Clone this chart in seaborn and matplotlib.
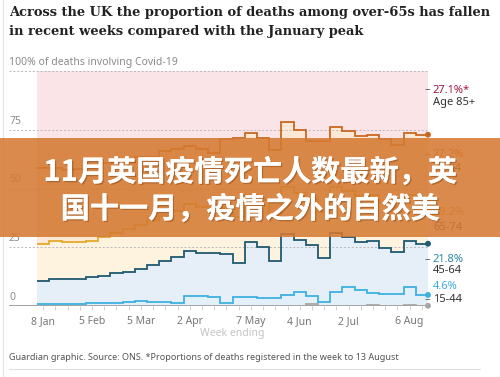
import matplotlib
matplotlib.use('Agg')
import matplotlib.pyplot as plt
import matplotlib.patheffects as pe
from matplotlib.patches import Rectangle
from matplotlib.lines import Line2D
import numpy as np
import seaborn as sns

# week ending dates, 2021
weeks = ['8 Jan', '15 Jan', '22 Jan', '29 Jan', '5 Feb', '12 Feb', '19 Feb', '26 Feb',
         '5 Mar', '12 Mar', '19 Mar', '26 Mar', '2 Apr', '9 Apr', '16 Apr', '23 Apr',
         '30 Apr', '7 May', '14 May', '21 May', '28 May', '4 Jun', '11 Jun', '18 Jun',
         '25 Jun', '2 Jul', '9 Jul', '16 Jul', '23 Jul', '30 Jul', '6 Aug', '13 Aug']
tick_weeks = ['8 Jan', '5 Feb', '5 Mar', '2 Apr', '7 May', '4 Jun', '2 Jul', '6 Aug']

# share (%) of deaths involving Covid-19, by age group
age_0_14 = [0.1, 0.1, 0.1, 0.1, 0.1, 0.1, 0.1, 0.1, 0.1, 0.1, 0.1, 0.1, 0.1, 0.1, 0.1, 0.1,
            0.1, 0.1, 0.1, 0.1, 0.1, 0.1, 1.0, 0.1, 0.1, 0.1, 0.1, 0.4, 0.1, 0.1, 0.3, 0.1]
age_15_44 = [0.7, 0.7, 0.9, 0.9, 1.0, 1.1, 1.2, 1.4, 1.9, 1.7, 1.4, 1.2, 4.2, 4.0, 3.9, 1.3,
             3.6, 3.6, 3.5, 3.4, 4.4, 6.0, 3.3, 1.5, 6.0, 8.0, 6.7, 5.0, 5.0, 5.0, 7.8, 4.6]
age_45_64 = [9.8, 10.6, 10.4, 10.6, 11.1, 11.6, 12.6, 13.1, 13.7, 15.6, 17.5, 19.7, 19.1, 18.5,
             18.4, 20.6, 14.5, 23.4, 21.6, 15.6, 26.1, 22.0, 21.7, 19.0, 24.8, 21.2, 20.4, 22.3,
             19.5, 17.8, 19.5, 21.8]
age_65_74 = [15.8, 16.4, 15.7, 15.5, 15.3, 16.4, 17.0, 18.2, 18.8, 19.0, 19.3, 19.5, 19.8, 19.6,
             19.5, 19.8, 19.5, 20.0, 19.8, 19.5, 20.0, 19.8, 19.5, 19.6, 19.8, 19.7, 19.5, 19.6,
             19.4, 19.3, 19.5, 19.2]
age_75_84 = [32.2, 30.8, 30.9, 31.4, 31.5, 31.5, 29.8, 28.2, 29.0, 27.1, 27.7, 26.5, 24.8, 24.8,
             23.1, 29.2, 33.8, 26.4, 26.5, 27.9, 27.7, 27.1, 24.9, 30.2, 25.6, 25.5, 25.6, 25.6,
             26.9, 26.3, 26.6, 27.2]
age_85_plus = [41.4, 41.4, 42.0, 41.5, 41.0, 39.3, 39.3, 39.0, 36.5, 36.5, 34.0, 33.0, 32.0, 33.0,
               35.0, 29.0, 28.5, 26.5, 28.5, 33.5, 21.7, 25.0, 29.6, 29.6, 23.7, 25.5, 27.7, 27.1,
               29.1, 31.5, 26.3, 27.1]

groups = ['0-14', '15-44', '45-64', '65-74', '75-84', 'Age 85+']
line_colors = ['#a6a6a6', '#3db0e0', '#1f5a70', '#e6a82c', '#c8691f', None]
fill_colors = [None, '#e3eff9', '#e6eff8', '#fdf3de', '#fde8d6', '#fbe4e7']
value_colors = ['#999999', '#3db0e0', '#2a86a8', '#d49b1b', '#c0600f', '#a3163c']

sns.set_theme(style='white')
plt.rcParams['font.family'] = ['Noto Sans', 'DejaVu Sans']

shares = np.vstack([age_0_14, age_15_44, age_45_64, age_65_74, age_75_84, age_85_plus])
stacked = np.cumsum(shares, axis=0)
edges = np.arange(len(weeks) + 1) - 0.5

fig = plt.figure(figsize=(5.0, 3.77), dpi=100)
ax = fig.add_axes([0.018, 0.1883, 0.838, 0.6234])

# stacked step areas
for k in range(1, len(groups)):
    ax.stairs(stacked[k], edges, baseline=stacked[k - 1], fill=True,
              color=fill_colors[k], lw=0, zorder=1)

# gridlines
for v in [25, 50, 75, 100]:
    ax.axhline(v, color='#b8b8b8', lw=0.7, ls=(0, (2, 2)), zorder=1.5)
ax.axhline(0, color='#a0a0a0', lw=1.4, zorder=2)

# step lines
for k in range(len(groups) - 1):
    ax.stairs(stacked[k], edges, baseline=None, color=line_colors[k],
              lw=1.3, zorder=3)

# end dots
ends = stacked[:-1, -1]
sns.scatterplot(x=np.full(len(ends), edges[-1]), y=ends, hue=groups[:-1],
                palette=line_colors[:-1], s=18, legend=False, zorder=4,
                edgecolor='none', clip_on=False, ax=ax)

ax.set_xlim(-2.8, edges[-1])
ax.set_ylim(0, 100)
sns.despine(ax=ax, left=True, bottom=True, right=True, top=True)

ax.set_xticks([weeks.index(w) for w in tick_weeks])
ax.set_xticklabels(tick_weeks)
ax.set_xticks(range(len(weeks)), minor=True)
ax.tick_params(axis='x', which='both', length=3, width=0.6, color='#c8c8c8',
               labelsize=7.5, labelcolor='#777777', pad=4, bottom=True)
ax.set_yticks([])
ax.set_xlabel('')
ax.set_ylabel('')

# y labels sit above gridlines
for v in [0, 25, 50, 75]:
    ax.text(-2.8, v + 1.3, str(v), fontsize=7.5, color='#8a8a8a', ha='left', va='bottom')
ax.text(-2.8, 101.3, '100% of deaths involving Covid-19', fontsize=7.5, color='#8a8a8a',
        ha='left', va='bottom')
ax.text((edges[0] + edges[-1]) / 2, -11.5, 'Week ending', fontsize=7.5, color='#c4c4c4',
        ha='center', va='center')

# right-hand labels: value, group name, y of value, y of name, dash at
right_labels = [
    (5, '27.1%*', 'Age 85+', 91.9, 86.4, 91.9),
    (4, '27.2%', '75-84', 64.3, 58.7, 64.3),
    (3, '19.2%', '65-74', 39.6, 33.2, 39.6),
    (2, '21.8%', '45-64', 20.0, 14.9, 19.6),
    (1, '4.6%', '15-44', 8.1, 2.6, 2.8),
]
for k, val, name, yv, yn, yd in right_labels:
    ax.text(31.9, yv, val, fontsize=8, color=value_colors[k], ha='left', va='center',
            clip_on=False)
    ax.text(31.9, yn, name, fontsize=8, color='#333333', ha='left', va='center',
            clip_on=False)
    ax.text(31.45, yd, '–', fontsize=8, color='#555555', ha='center', va='center',
            clip_on=False)

# title and footer
title_font = dict(fontsize=9.4, fontweight='bold', family='DejaVu Serif', color='#222222',
                  ha='left', va='center')
fig.text(0.018, 0.966, 'Across the UK the proportion of deaths among over-65s has fallen',
         **title_font)
fig.text(0.018, 0.917, 'in recent weeks compared with the January peak', **title_font)
fig.text(0.018, 0.053, 'Guardian graphic. Source: ONS. *Proportions of deaths registered '
         'in the week to 13 August', fontsize=6.5, color='#555555', ha='left', va='center')
fig.add_artist(Line2D([0.018, 0.96], [0.021, 0.021], color='#dddddd', lw=0.8))
fig.add_artist(Line2D([0.005, 0.005], [0.0, 1.0], color='#e2e2e2', lw=0.8))

# overlay banner
fig.add_artist(Rectangle((0, 0.3714), 1, 0.2626, transform=fig.transFigure,
                         facecolor='#d47a33', alpha=0.88, edgecolor='none', zorder=10))
shadow = [pe.withSimplePatchShadow(offset=(1, -1), shadow_rgbFace='#8a4a18', alpha=0.5),
          pe.Normal()]
fig.text(0.5, 0.5438, '11月英国疫情死亡人数最新，英', fontsize=21, fontweight='bold',
         family=['Noto Sans CJK SC', 'DejaVu Sans'], color='white', ha='center',
         va='center', zorder=11, path_effects=shadow)
fig.text(0.5, 0.4456, '国十一月，疫情之外的自然美', fontsize=21, fontweight='bold',
         family=['Noto Sans CJK SC', 'DejaVu Sans'], color='white', ha='center',
         va='center', zorder=11, path_effects=shadow)

fig.savefig('out.png', dpi=100)
